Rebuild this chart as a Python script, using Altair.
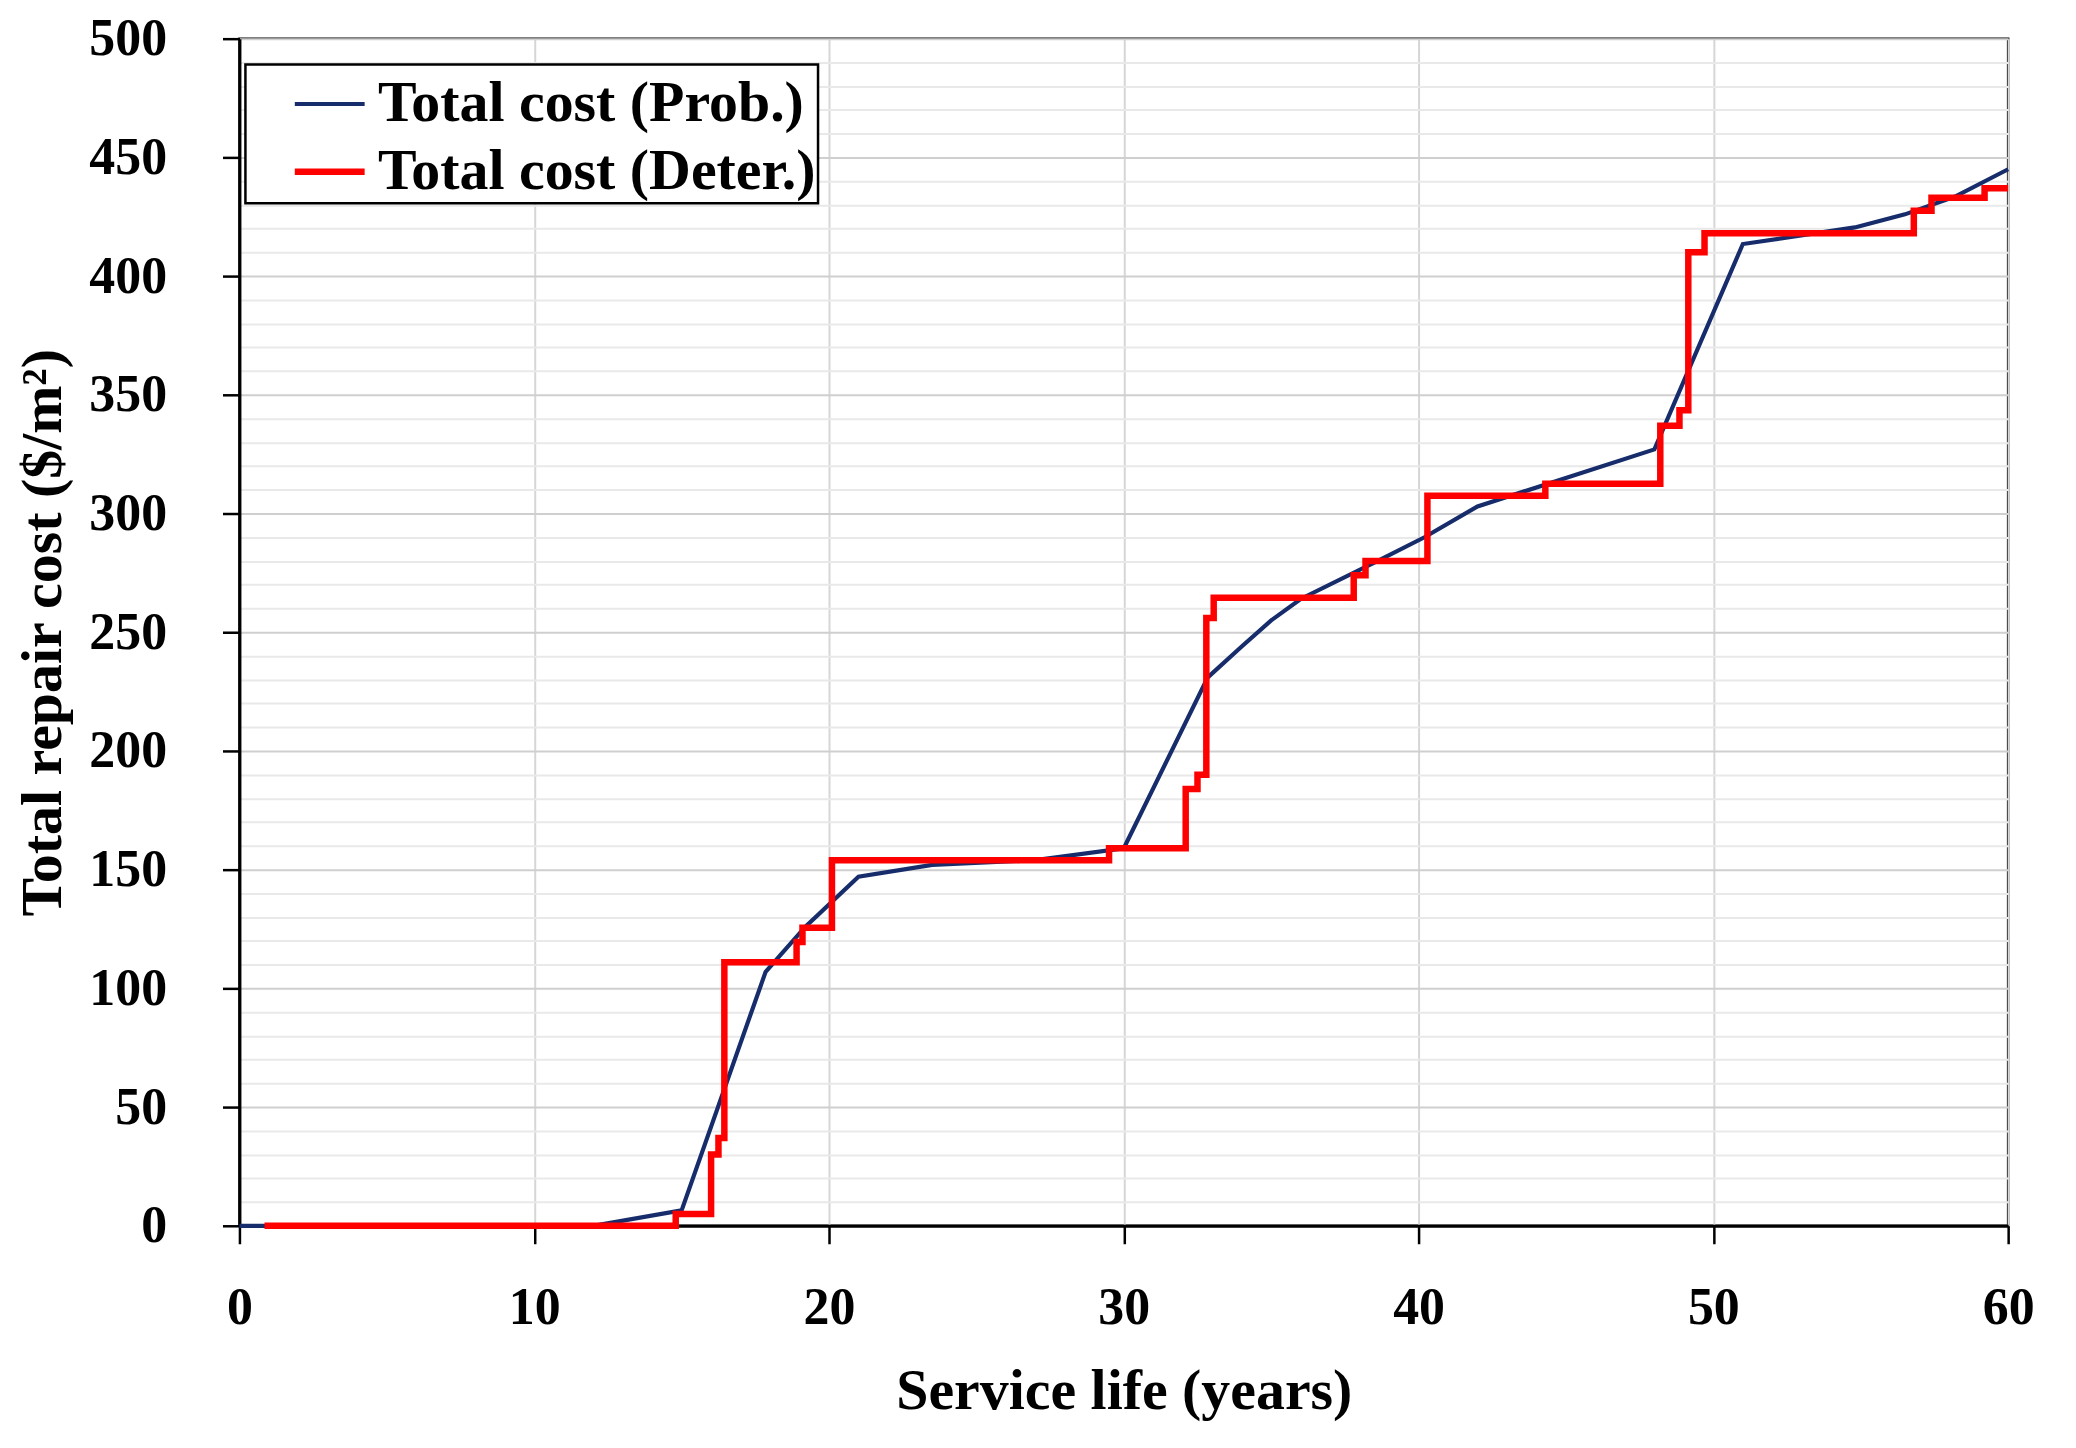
import altair as alt
import pandas as pd

# Probabilistic total cost (piecewise linear)
prob_years = [0, 12, 15, 17.85, 19.2, 21, 23.5, 27, 30, 32.85, 34, 35, 36, 38.6, 40.2, 42, 48, 51, 54.8, 56.5, 58.2, 60]
prob_cost = [0, 0, 6.5, 107, 126, 147, 152, 154, 159, 231, 244, 255, 264, 280, 290, 303, 327, 413.5, 420.5, 426, 433.5, 445]

# Deterministic total cost (step function, value holds until next year entry)
det_years = [0.85, 14.8, 16.0, 16.25, 16.45, 18.9, 19.1, 20.1, 29.5, 32.1, 32.5, 32.8, 33.05, 37.8, 38.2,
             40.3, 44.3, 48.2, 48.85, 49.15, 49.7, 56.8, 57.4, 59.2, 60]
det_cost = [0, 5, 30, 37, 111, 119.5, 125.5, 154, 159, 184, 190, 256, 264.5, 274, 280,
            307.5, 312.5, 337, 343.5, 410, 418, 427.5, 433, 437, 437]

series_names = ["Total cost (Prob.)", "Total cost (Deter.)"]
series_colors = ["#172c6b", "#ff0000"]
series_widths = [4.2, 6.5]

x_ticks = [0, 10, 20, 30, 40, 50, 60]
y_ticks = list(range(0, 501, 10))

prob_df = pd.DataFrame({"year": prob_years, "cost": prob_cost, "series": series_names[0]})
det_df = pd.DataFrame({"year": det_years, "cost": det_cost, "series": series_names[1]})

FONT = "Liberation Serif"

x_enc = alt.X("year:Q", scale=alt.Scale(domain=[0, 60], nice=False),
              axis=alt.Axis(values=x_ticks, title="Service life (years)", format="d",
                            labelFlush=False, titleY=183, titleBaseline="alphabetic"))
y_enc = alt.Y("cost:Q", scale=alt.Scale(domain=[0, 500], nice=False),
              axis=alt.Axis(values=y_ticks, title="Total repair cost ($/m²)",
                            labelExpr="datum.value % 50 === 0 ? datum.label : ''",
                            gridColor={"condition": {"test": "datum.value % 50 === 0", "value": "#cfcfcf"}, "value": "#e9e9e9"},
                            tickOpacity={"condition": {"test": "datum.value % 50 === 0", "value": 1}, "value": 0},
                            labelFlush=False,
                            titleX=-179, titleY=595, titleAngle=-90, titleAlign="center",
                            titleBaseline="alphabetic", labelPadding=56))
color_enc = alt.Color("series:N", scale=alt.Scale(domain=series_names, range=series_colors),
                      legend=alt.Legend(title=None, orient="none", legendX=6, legendY=26,
                                        symbolType="stroke", symbolSize=4900,
                                        labelFontSize=58, labelFont=FONT, labelFontWeight="bold",
                                        labelColor="black", labelOffset=10, labelLimit=2000,
                                        strokeColor="black", fillColor="white",
                                        padding=2, rowPadding=0, symbolOffset=44,
                                        labelExpr="datum.label + '\u00a0\u00a0\u00a0'"))
width_enc = alt.StrokeWidth("series:N", scale=alt.Scale(domain=series_names, range=series_widths), legend=None)

prob_line = alt.Chart(prob_df).mark_line(interpolate="linear").encode(
    x=x_enc, y=y_enc, color=color_enc, strokeWidth=width_enc)
det_line = alt.Chart(det_df).mark_line(interpolate="step-after").encode(
    x=x_enc, y=y_enc, color=color_enc, strokeWidth=width_enc)

chart = alt.layer(prob_line, det_line).properties(
    width=1773, height=1190,
    autosize=alt.AutoSizeParams(type="none"),
    padding={"left": 232, "top": 29, "right": 60, "bottom": 220},
    background="white",
).configure_view(
    stroke="black", strokeWidth=2.5
).configure_axis(
    labelFont=FONT, labelFontSize=52, labelFontWeight="bold", labelColor="black",
    titleFont=FONT, titleFontSize=58, titleFontWeight="bold", titleColor="black",
    domainColor="black", domainWidth=3, tickColor="black", tickWidth=2.5,
    gridWidth=2, gridColor="#d6d6d6",
).configure_axisX(
    tickSize=18, labelPadding=39, gridColor="#d6d6d6",
).configure_axisY(
    tickSize=17,
).configure_legend(
    strokeWidth=2.5
)

chart.save("out.html", embed_options={"renderer": "svg", "actions": False})
